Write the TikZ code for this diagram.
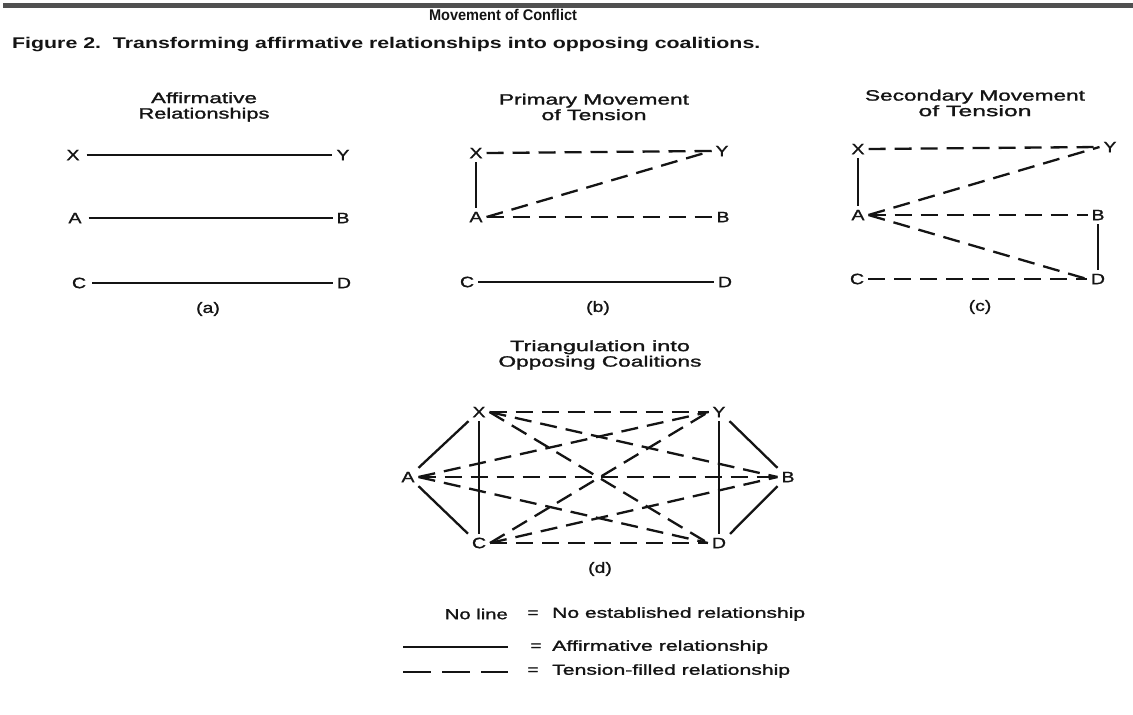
\documentclass[tikz,border=0pt]{standalone}
\usepackage{fontspec}
\usepackage{graphicx}
\setmainfont{Liberation Sans}
\newfontfamily\widefont{Liberation Sans}[FakeStretch=1.3, FakeBold=1.2]
\newfontfamily\txtfont{Liberation Sans}[FakeBold=1.2]
\newcommand{\fw}[2]{\resizebox{#1}{\height}{#2}}
\definecolor{ink}{HTML}{141414}
\definecolor{barcol}{HTML}{505050}
\tikzset{
  lbl/.style={inner sep=0pt, outer sep=4pt, text=ink, font=\widefont\fontsize{15}{15}\selectfont},
  ttl/.style={inner sep=0pt, align=center, text=ink, font=\txtfont\fontsize{15}{15.5}\selectfont},
  legtxt/.style={inner sep=0pt, text=ink, font=\txtfont\fontsize{14.5}{14.5}\selectfont},
  solidln/.style={line width=2.3pt, draw=ink},
  dashln/.style={line width=2.3pt, draw=ink, dash pattern=on 17pt off 9pt},
  legdash/.style={line width=2.3pt, draw=ink, dash pattern=on 28pt off 11pt},
}
\begin{document}
\begin{tikzpicture}[x=1pt,y=-1pt]
\fill[white] (0,0) rectangle (1133,715);
\useasboundingbox (0,0) rectangle (1133,715);
% header
\fill[barcol] (3,2.5) rectangle (1133,7.5);
\node[inner sep=0pt, text=ink, font=\bfseries\fontsize{15.5}{15.5}\selectfont] (title) at (503,15) {\fw{148pt}{Movement of Conflict}};
\node[inner sep=0pt, anchor=west, text=ink, font=\bfseries\fontsize{15.5}{15.5}\selectfont] (caption) at (12,45) {\fw{748pt}{Figure 2.\ \ Transforming affirmative relationships into opposing coalitions.}};

% ---------- panel (a)
\node[ttl] (ta) at (204,107) {\fw{106pt}{Affirmative}\\\fw{131pt}{Relationships}};
\node[lbl] (aX) at (73,155) {X};
\node[lbl] (aY) at (343,155) {Y};
\node[lbl] (aA) at (75,218) {A};
\node[lbl] (aB) at (343,218) {B};
\node[lbl] (aC) at (79,283) {C};
\node[lbl] (aD) at (344,283) {D};
\draw[solidln, shorten <=3pt, shorten >=1pt] (aX.east) -- (aY.west);
\draw[solidln, shorten <=3pt] (aA.east) -- (aB.west);
\draw[solidln, shorten <=2pt] (aC.east) -- (aD.west);
\node[lbl] (la) at (208,309) {(a)};

% ---------- panel (b)
\node[ttl] (tb) at (594,107) {\fw{190pt}{Primary Movement}\\\fw{105pt}{of Tension}};
\node[lbl] (bX) at (476,153) {X};
\node[lbl] (bY) at (722,151) {Y};
\node[lbl] (bA) at (476,217) {A};
\node[lbl] (bB) at (723,217) {B};
\node[lbl] (bC) at (467,282) {C};
\node[lbl] (bD) at (725,282) {D};
\draw[dashln] (bX.east) -- (bY.west);
\draw[dashln] (bA.east) -- (bY.west);
\draw[dashln] (bA.east) -- (bB.west);
\draw[solidln] (bX.south) -- (bA.north);
\draw[solidln] (bC.east) -- (bD.west);
\node[lbl] (lb) at (598,308) {(b)};

% ---------- panel (c)
\node[ttl] (tc) at (975,103) {\fw{220pt}{Secondary Movement}\\\fw{113pt}{of Tension}};
\node[lbl] (cX) at (858,149) {X};
\node[lbl] (cY) at (1110,147) {Y};
\node[lbl] (cA) at (858,215) {A};
\node[lbl] (cB) at (1098,215) {B};
\node[lbl] (cC) at (857,279) {C};
\node[lbl] (cD) at (1098,279) {D};
\draw[dashln] (cX.east) -- (cY.west);
\draw[dashln] (cA.east) -- (cY.west);
\draw[dashln] (cA.east) -- (cB.west);
\draw[dashln] (cA.east) -- (cD.west);
\draw[dashln] (cC.east) -- (cD.west);
\draw[solidln] (cX.south) -- (cA.north);
\draw[solidln] (cB.south) -- (cD.north);
\node[lbl] (lc) at (980,307) {(c)};

% ---------- panel (d)
\node[ttl] (td) at (600,355) {\fw{180pt}{Triangulation into}\\\fw{203pt}{Opposing Coalitions}};
\node[lbl] (dX) at (479,412) {X};
\node[lbl] (dY) at (719,412) {Y};
\node[lbl] (dA) at (408,477) {A};
\node[lbl] (dB) at (788,477) {B};
\node[lbl] (dC) at (479,543) {C};
\node[lbl] (dD) at (719,543) {D};
\foreach \s in {X,A,C}{
  \foreach \t in {Y,B,D}{
    \draw[dashln] (d\s.east) -- (d\t.west);
  }
}
\draw[solidln] (dX.south west) -- (dA.north east);
\draw[solidln] (dA.south east) -- (dC.north west);
\draw[solidln] (dX.south) -- (dC.north);
\draw[solidln] (dY.south) -- (dD.north);
\draw[solidln] (dY.south east) -- (dB.north west);
\draw[solidln] (dD.north east) -- (dB.south west);
\node[lbl] (ld) at (600,569) {(d)};

% ---------- legend
\node[legtxt, anchor=east] (nl) at (508,614) {\fw{63pt}{No line}};
\node[legtxt] (eq1) at (533,614) {\fw{11pt}{=}};
\node[legtxt, anchor=west] (t1) at (552,614) {\fw{253pt}{No established relationship}};
\coordinate (s1) at (403,647);
\coordinate (s2) at (508,647);
\draw[solidln] (s1) -- (s2);
\node[legtxt] (eq2) at (536,647) {\fw{11pt}{=}};
\node[legtxt, anchor=west] (t2) at (552,647) {\fw{216pt}{Affirmative relationship}};
\coordinate (d1) at (403,672);
\coordinate (d2) at (508,672);
\draw[legdash] (d1) -- (d2);
\node[legtxt] (eq3) at (533,671) {\fw{11pt}{=}};
\node[legtxt, anchor=west] (t3) at (552,671) {\fw{238pt}{Tension-filled relationship}};
\end{tikzpicture}
\end{document}
